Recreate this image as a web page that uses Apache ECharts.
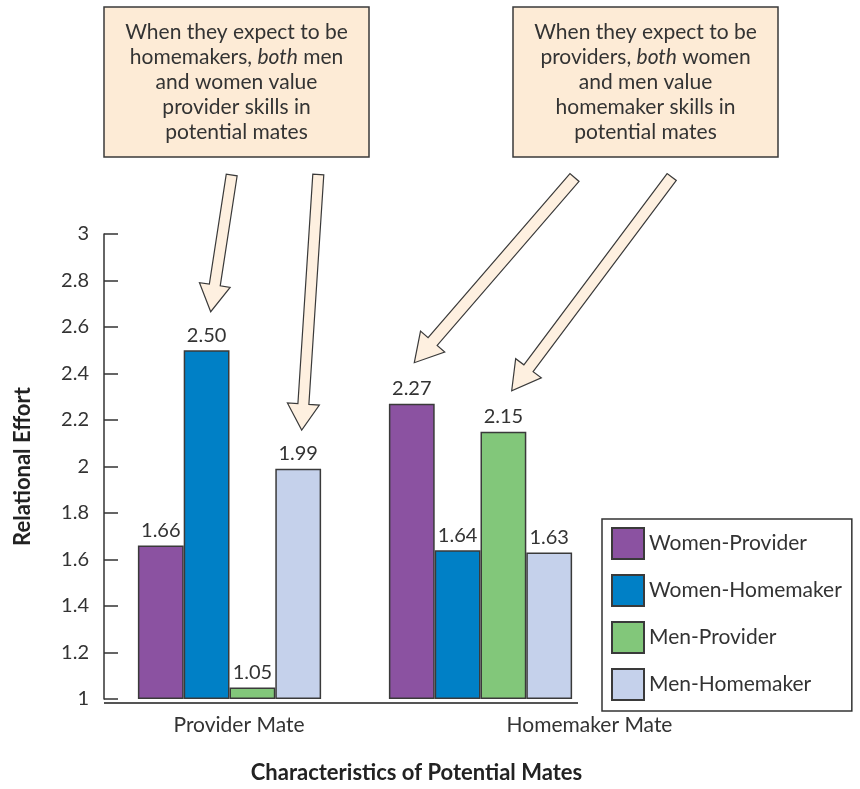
<!DOCTYPE html>
<html>
<head>
<meta charset="utf-8">
<script src="https://cdn.jsdelivr.net/npm/echarts@6/dist/echarts.min.js"></script>
<style>html,body{margin:0;padding:0;background:#fff}#c{width:860px;height:789px}</style>
</head>
<body>
<div id="c"></div>
<script>
const categories = ['Provider Mate', 'Homemaker Mate'];
const seriesNames = ['Women-Provider', 'Women-Homemaker', 'Men-Provider', 'Men-Homemaker'];
const womenProvider = [1.66, 2.27];
const womenHomemaker = [2.50, 1.64];
const menProvider = [1.05, 2.15];
const menHomemaker = [1.99, 1.63];
const yMin = 1, yMax = 3, yStep = 0.2;
const yTitle = 'Relational Effort';
const xTitle = 'Characteristics of Potential Mates';
const note1 = 'When they expect to be\nhomemakers, {i|both} men\nand women value\nprovider skills in\npotential mates';
const note2 = 'When they expect to be\nproviders, {i|both} women\nand men value\nhomemaker skills in\npotential mates';

const colors = ['#8B52A1', '#0080C6', '#82C77A', '#C5D1EB'];
const FONT = 'Lato';
const TXT = '#333';

const seriesData = [womenProvider, womenHomemaker, menProvider, menHomemaker];

function arrow(tx, ty, hx, hy, sw, hw, hl) {
  const dx = hx - tx, dy = hy - ty;
  const L = Math.sqrt(dx * dx + dy * dy);
  const ux = dx / L, uy = dy / L;
  const px = -uy, py = ux;
  const bx = hx - ux * hl, by = hy - uy * hl;
  return [
    [tx + px * sw / 2, ty + py * sw / 2],
    [bx + px * sw / 2, by + py * sw / 2],
    [bx + px * hw / 2, by + py * hw / 2],
    [hx, hy],
    [bx - px * hw / 2, by - py * hw / 2],
    [bx - px * sw / 2, by - py * sw / 2],
    [tx - px * sw / 2, ty - py * sw / 2]
  ];
}

function noteBox(x, y, w, h, text) {
  return {
    type: 'group',
    children: [
      { type: 'rect', shape: { x: x, y: y, width: w, height: h },
        style: { fill: '#FDEBD6', stroke: '#3a3a3a', lineWidth: 1.5 } },
      { type: 'text', x: x + w / 2, y: y + h / 2,
        style: { text: text, fill: TXT, fontFamily: FONT, fontSize: 21,
          align: 'center', verticalAlign: 'middle', lineHeight: 25,
          rich: { i: { fontStyle: 'italic', fontFamily: FONT, fontSize: 21, fill: TXT, lineHeight: 25 } } } }
    ]
  };
}

function arrowEl(pts) {
  return { type: 'polygon', shape: { points: pts }, style: { fill: '#FEF0E0', stroke: '#3a3a3a', lineWidth: 1.2 }, z: 10 };
}

const chart = echarts.init(document.getElementById('c'), null, { renderer: 'canvas' });

const option = {
  animation: false,
  backgroundColor: '#fff',
  textStyle: { fontFamily: FONT },
  grid: { left: 104, right: 254, top: 234, bottom: 86, containLabel: false },
  legend: {
    orient: 'vertical', left: 602, top: 519,
    padding: [8, 10, 10, 9],
    itemWidth: 32, itemHeight: 31, itemGap: 14,
    borderColor: '#333', borderWidth: 1.5,
    icon: 'rect',
    textStyle: { fontSize: 21, color: TXT, fontFamily: FONT },
    data: seriesNames
  },
  xAxis: {
    type: 'category', data: categories,
    axisLine: { show: false },
    axisTick: { show: false },
    axisLabel: {
      interval: 0, margin: 16, color: TXT, fontSize: 21, fontFamily: FONT,
      formatter: function (v, i) { return i === 0 ? '{a|' + v + '}' : '{b|' + v + '}'; },
      rich: {
        a: { padding: [0, 0, 0, 19], fontSize: 21, color: TXT, fontFamily: FONT },
        b: { padding: [0, 0, 0, 218], fontSize: 21, color: TXT, fontFamily: FONT }
      }
    },
    name: xTitle, nameLocation: 'middle', nameGap: 63,
    nameTextStyle: { fontWeight: 'bold', fontSize: 22, color: '#222', fontFamily: FONT, padding: [0, 0, 0, 123] }
  },
  yAxis: {
    type: 'value', min: yMin, max: yMax, interval: yStep, startValue: yMin,
    axisLine: { show: true, lineStyle: { color: '#333', width: 1.5 } },
    axisTick: { show: true, inside: true, length: 14, lineStyle: { color: '#333', width: 1.5 } },
    axisLabel: { margin: 15, color: TXT, fontSize: 20, fontFamily: FONT },
    splitLine: { show: false },
    name: yTitle, nameLocation: 'middle', nameGap: 70,
    nameTextStyle: { fontWeight: 'bold', fontSize: 22, color: '#222', fontFamily: FONT }
  },
  series: seriesNames.map(function (n, k) {
    return {
      name: n, type: 'bar', data: seriesData[k],
      barGap: '0%', barCategoryGap: '27%',
      itemStyle: { color: colors[k], borderColor: '#3a3a3a', borderWidth: 1.5 },
      label: { show: true, position: 'top', distance: 5, color: TXT, fontSize: 20, fontFamily: FONT,
        formatter: function (p) { return p.value.toFixed(2); } }
    };
  }),
  graphic: [
    { type: 'line', shape: { x1: 104, y1: 703, x2: 578, y2: 703 }, style: { stroke: '#555', lineWidth: 2 }, z: 5 },
    noteBox(104, 7, 265, 150, note1),
    noteBox(513, 7, 265, 150, note2),
    arrowEl(arrow(231.7, 175, 210.7, 311.7, 11, 31, 27)),
    arrowEl(arrow(318.3, 174.5, 301.7, 430, 11, 32, 26)),
    arrowEl(arrow(574.5, 177.5, 414.3, 362.7, 12, 32, 28)),
    arrowEl(arrow(671.7, 177, 511.7, 390.7, 11.5, 32, 28))
  ]
};
chart.setOption(option);
</script>
</body>
</html>
